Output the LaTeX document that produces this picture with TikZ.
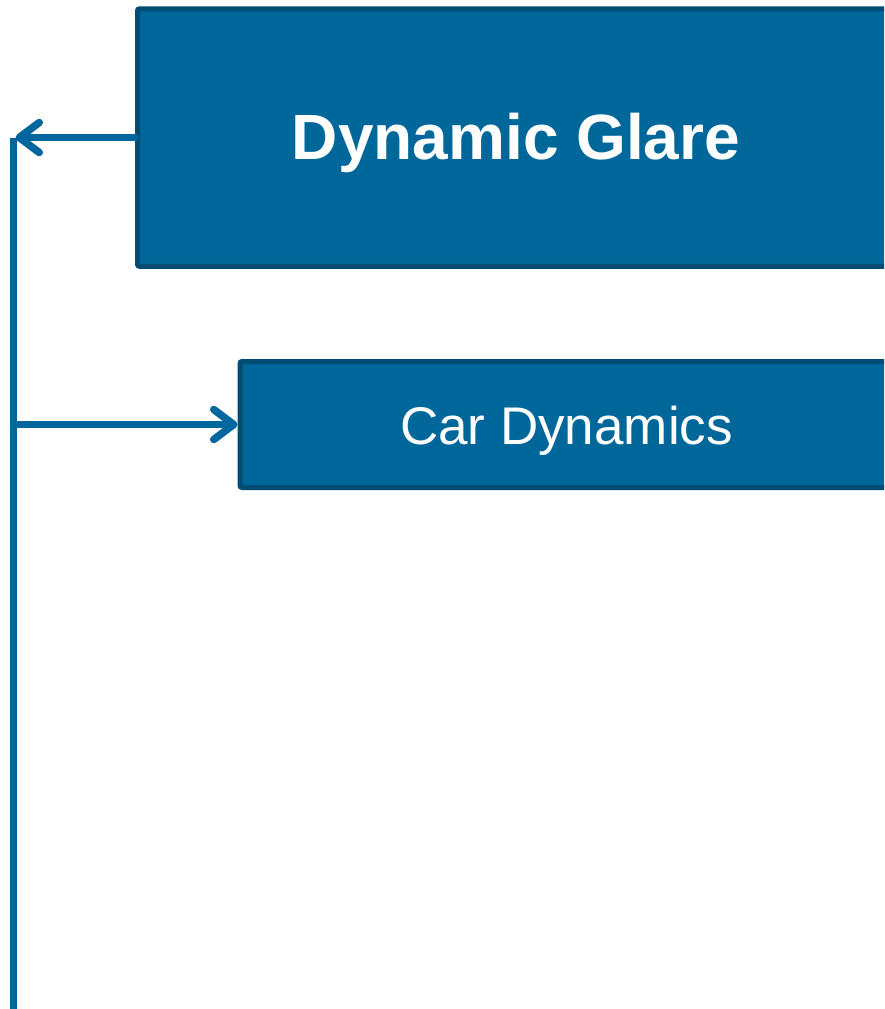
\documentclass[tikz,border=0pt]{standalone}
\usepackage{fontspec}
\setmainfont{Liberation Sans}
\usetikzlibrary{arrows.meta}
\definecolor{boxfill}{RGB}{0,103,155}
\definecolor{boxedge}{RGB}{0,76,115}
\definecolor{linecol}{RGB}{0,103,158}
\tikzset{
  bluebox/.style={draw=boxedge, fill=boxfill, line width=5pt, rounded corners=2pt,
    text=white, inner sep=0pt, anchor=center, text depth=0pt},
  conn/.style={draw=linecol, line width=7.5pt, line cap=round,
    -{Straight Barb[length=20pt,width=30pt,line cap=round,line join=round]}},
}
\begin{document}
\begin{tikzpicture}[x=1pt,y=-1pt]
\useasboundingbox (0,0) rectangle (884,1009);
\clip (0,0) rectangle (884,1009);
\node[bluebox, minimum width=757pt, minimum height=257.5pt, text height=43pt,
  font=\fontsize{64pt}{70pt}\selectfont\bfseries] (b1) at (516,137.5) {Dynamic Glare};
\node[bluebox, minimum width=653pt, minimum height=126pt, text height=39pt,
  font=\fontsize{53pt}{60pt}\selectfont] (b2) at (566.5,424.5) {Car Dynamics};
\coordinate (top) at (13.5,137.5);
\coordinate (bot) at (13.5,1020);
\coordinate (mid) at (13.5,424.5);
\draw[draw=linecol, line width=7.5pt] (top) -- (bot);
\draw[conn] (b1.west) -- ([xshift=2pt]top);
\draw[conn] (mid) -- (b2.west);
\end{tikzpicture}
\end{document}
